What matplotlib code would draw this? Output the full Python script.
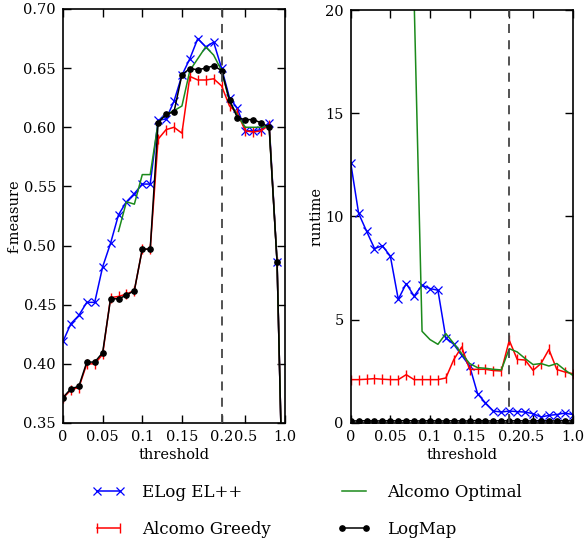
import numpy as np
import matplotlib
matplotlib.use("Agg")
from matplotlib import pyplot as plt

plt.rcParams['font.family'] = ['DejaVu Serif']
plt.rcParams['mathtext.fontset'] = 'dejavuserif'

# threshold values (plotted at equal spacing, one slot per value)
thresholds = [0.00, 0.01, 0.02, 0.03, 0.04, 0.05, 0.06, 0.07, 0.08, 0.09,
              0.10, 0.11, 0.12, 0.13, 0.14, 0.15, 0.16, 0.17, 0.18, 0.19,
              0.20, 0.3, 0.4, 0.5, 0.6, 0.7, 0.8, 0.9, 1.0]
tick_values = [0.0, 0.05, 0.10, 0.15, 0.20, 0.5, 1.0]
tick_labels = ['0', '0.05', '0.1', '0.15', '0.2', '0.5', '1.0']
dashed_at = 0.20

# f-measure
fm_elog = [0.419, 0.434, 0.441, 0.452, 0.452, 0.482, 0.502, 0.526, 0.537, 0.544,
           0.552, 0.552, 0.606, 0.607, 0.622, 0.644, 0.658, 0.675, 0.668, 0.672,
           0.650, 0.625, 0.616, 0.597, 0.597, 0.598, 0.604, 0.486, 0.20]
fm_greedy = [0.371, 0.378, 0.380, 0.400, 0.400, 0.408, 0.456, 0.457, 0.459, 0.462,
             0.497, 0.497, 0.590, 0.598, 0.600, 0.595, 0.643, 0.640, 0.640, 0.641,
             0.635, 0.618, 0.612, 0.597, 0.596, 0.597, 0.602, 0.486, 0.20]
fm_optimal = [np.nan, np.nan, np.nan, np.nan, np.nan, np.nan, np.nan, 0.512, 0.537, 0.535,
              0.560, 0.560, 0.604, 0.611, 0.614, 0.618, 0.648, 0.658, 0.668, 0.661,
              0.648, 0.622, 0.610, 0.600, 0.600, 0.600, 0.601, 0.486, 0.20]
fm_logmap = [0.3715, 0.379, 0.381, 0.4015, 0.4015, 0.4095, 0.455, 0.455, 0.458, 0.462,
             0.497, 0.497, 0.604, 0.611, 0.613, 0.6445, 0.6496, 0.6487, 0.650, 0.652,
             0.648, 0.623, 0.608, 0.6065, 0.6065, 0.6037, 0.600, 0.486, 0.20]

# runtime
rt_elog = [12.6, 10.15, 9.29, 8.45, 8.58, 8.08, 5.99, 6.75, 6.15, 6.67,
           6.51, 6.43, 4.12, 3.81, 3.28, 2.76, 1.42, 0.97, 0.58, 0.53,
           0.58, 0.55, 0.53, 0.45, 0.29, 0.37, 0.41, 0.48, 0.41]
rt_greedy = [2.10, 2.10, 2.12, 2.15, 2.12, 2.10, 2.10, 2.34, 2.10, 2.10,
             2.10, 2.10, 2.18, 3.07, 3.68, 2.59, 2.60, 2.60, 2.54, 2.52,
             4.00, 3.08, 3.05, 2.55, 2.88, 3.56, 2.59, 2.47, 2.39]
rt_optimal = [np.nan, np.nan, np.nan, np.nan, np.nan, np.nan, np.nan, 60.0, 20.5, 4.44,
              4.04, 3.81, 4.33, 3.85, 3.36, 2.88, 2.68, 2.65, 2.60, 2.57,
              3.60, 3.44, 3.12, 2.83, 2.88, 2.76, 2.88, 2.57, 2.31]
rt_logmap = [0.10, 0.10, 0.11, 0.10, 0.10, 0.11, 0.10, 0.12, 0.10, 0.10,
             0.11, 0.10, 0.10, 0.11, 0.10, 0.10, 0.12, 0.10, 0.10, 0.11,
             0.10, 0.11, 0.10, 0.10, 0.11, 0.10, 0.10, 0.11, 0.10]

x = np.arange(len(thresholds))
tick_pos = [thresholds.index(t) for t in tick_values]
dash_pos = thresholds.index(dashed_at)

fig = plt.figure(figsize=(5.84, 5.47), dpi=100)
ax1 = fig.add_axes([63 / 584, 1 - 423 / 547, 222 / 584, 414 / 547])
ax2 = fig.add_axes([350.7 / 584, 1 - 423 / 547, 222 / 584, 413 / 547])


def draw(ax, elog, greedy, optimal, logmap):
    ax.plot(x, elog, color='#0000ff', lw=1.1, marker='x', ms=6, mew=0.9,
            label='ELog EL++')
    ax.plot(x, greedy, color='#ff0000', lw=1.1, marker='|', ms=7, mew=1.0,
            label='Alcomo Greedy')
    ax.plot(x, optimal, color='#1b8a1b', lw=1.1, label='Alcomo Optimal')
    ax.plot(x, logmap, color='black', lw=1.1, marker='o', ms=3.8,
            label='LogMap')
    ax.axvline(dash_pos, color='#444444', ls=(0, (5, 4)), lw=1.3, zorder=5)
    ax.set_xlim(0, len(thresholds) - 1)
    ax.set_xticks(tick_pos)
    ax.set_xticklabels(tick_labels)
    ax.tick_params(direction='in', top=True, right=True, length=6,
                   width=1.0, labelsize=10.5, pad=5)
    ax.set_xlabel('threshold', fontsize=10.5, labelpad=3)
    for s in ax.spines.values():
        s.set_linewidth(1.2)


draw(ax1, fm_elog, fm_greedy, fm_optimal, fm_logmap)
ax1.set_ylim(0.35, 0.70)
ax1.set_yticks([0.35, 0.40, 0.45, 0.50, 0.55, 0.60, 0.65, 0.70])
ax1.set_yticklabels(['%.2f' % v for v in ax1.get_yticks()])
ax1.set_ylabel('f-measure', fontsize=10.5, labelpad=1)

draw(ax2, rt_elog, rt_greedy, rt_optimal, rt_logmap)
ax2.set_ylim(0, 20)
ax2.set_yticks([0, 5, 10, 15, 20])
ax2.set_ylabel('runtime', fontsize=10.5, labelpad=1)

handles, labels = ax1.get_legend_handles_labels()
fig.legend([handles[0], handles[1], handles[2], handles[3]],
           [labels[0], labels[1], labels[2], labels[3]],
           ncol=2, loc='center', bbox_to_anchor=(307 / 584, 1 - 511 / 547),
           frameon=False, fontsize=12, numpoints=2, handlelength=2.0,
           handletextpad=1.0, columnspacing=4.0, labelspacing=1.2)

fig.savefig('out.png', dpi=100)
